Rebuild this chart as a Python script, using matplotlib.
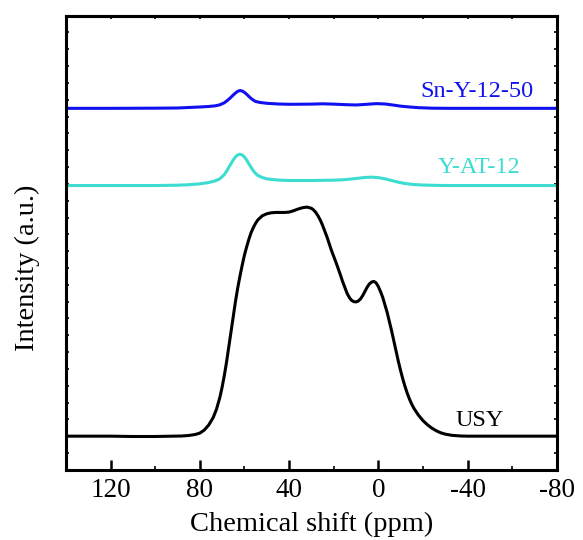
import numpy as np
import matplotlib.pyplot as plt
from matplotlib.ticker import MultipleLocator

plt.rcParams['font.family'] = ['Liberation Serif', 'DejaVu Serif']
plt.rcParams['axes.unicode_minus'] = False

# 27Al MAS NMR spectra, offsets already applied
usy_ppm = [140, 130, 120, 110, 100, 92, 88, 85, 82, 80, 78, 76, 74, 72.5, 71, 70,
           69, 68, 67, 66, 65, 64, 63, 62, 61, 60, 59, 58, 57, 56, 55, 54, 52, 50,
           48, 46, 44, 42, 40, 38, 36, 34, 32, 30, 29, 28, 27, 26, 25, 24, 23, 22,
           21, 20, 19, 18, 17, 16, 15, 14, 13, 12, 11, 10, 9, 8, 7, 6, 5, 4, 3, 2,
           1, 0, -1, -2, -3, -4, -5, -6, -7, -8, -9, -10, -11, -12, -13, -14, -15,
           -16, -18, -20, -22, -24, -26, -28, -30, -33, -37, -40, -50, -60, -80]
usy_int = [2.0, 2.0, 2.0, 1.98, 1.98, 2.0, 2.01, 2.04, 2.1, 2.18, 2.36, 2.66, 3.1,
           3.6, 4.3, 4.9, 5.6, 6.4, 7.3, 8.2, 9.1, 10.0, 10.8, 11.5, 12.15, 12.75,
           13.25, 13.7, 14.1, 14.4, 14.65, 14.85, 15.1, 15.22, 15.28, 15.3, 15.3,
           15.3, 15.32, 15.4, 15.5, 15.58, 15.62, 15.55, 15.45, 15.3, 15.1, 14.85,
           14.55, 14.2, 13.85, 13.45, 13.05, 12.7, 12.35, 11.98, 11.6, 11.2, 10.85,
           10.5, 10.25, 10.08, 10.0, 9.98, 10.03, 10.15, 10.35, 10.6, 10.85, 11.05,
           11.16, 11.2, 11.12, 10.9, 10.6, 10.25, 9.8, 9.35, 8.8, 8.25, 7.65, 7.05,
           6.45, 5.9, 5.4, 4.95, 4.55, 4.2, 3.9, 3.65, 3.25, 2.93, 2.68, 2.48, 2.32,
           2.2, 2.12, 2.05, 2.01, 2.0, 2.0, 2.0, 2.0]

yat_ppm = [140, 120, 100, 90, 85, 80, 76, 73, 71, 69, 68, 67, 66, 65, 64, 63, 62,
           61, 60, 59, 58, 57, 56, 55, 54, 52, 50, 47, 44, 40, 30, 20, 15, 10, 6,
           3, 0, -3, -6, -9, -12, -16, -20, -26, -32, -50, -80]
yat_int = [16.9, 16.9, 16.9, 16.92, 16.95, 17.0, 17.08, 17.18, 17.3, 17.55, 17.75,
           17.98, 18.2, 18.42, 18.6, 18.72, 18.76, 18.72, 18.6, 18.42, 18.2, 17.98,
           17.78, 17.62, 17.5, 17.38, 17.3, 17.25, 17.22, 17.2, 17.2, 17.22, 17.25,
           17.32, 17.38, 17.4, 17.37, 17.3, 17.2, 17.1, 17.02, 16.96, 16.93, 16.91,
           16.9, 16.9, 16.9]

sny_ppm = [140, 120, 100, 90, 85, 80, 76, 73, 71, 69, 68, 67, 66, 65, 64, 63, 62,
           61, 60, 59, 58, 57, 56, 55, 53, 50, 45, 40, 30, 25, 20, 15, 10, 5, 1,
           -3, -7, -10, -14, -18, -24, -32, -50, -80]
sny_int = [21.49, 21.49, 21.5, 21.51, 21.54, 21.57, 21.6, 21.64, 21.7, 21.82, 21.92,
           22.03, 22.15, 22.28, 22.4, 22.5, 22.55, 22.52, 22.44, 22.33, 22.2, 22.08,
           21.98, 21.9, 21.84, 21.79, 21.75, 21.73, 21.74, 21.76, 21.74, 21.71,
           21.69, 21.73, 21.77, 21.75, 21.68, 21.62, 21.57, 21.53, 21.5, 21.49,
           21.49, 21.49]

fig = plt.figure(figsize=(5.83, 5.40), dpi=100)
ax = fig.add_axes([0.113, 0.130, 0.842, 0.841])

ax.plot(usy_ppm, usy_int, color='black', lw=2.2)
ax.plot(yat_ppm, yat_int, color='#3cdcd0', lw=2.2)
ax.plot(sny_ppm, sny_int, color='#1010f0', lw=2.2)

ax.text(-45.5, 2.95, 'USY', color='black', fontsize=17.5, ha='center', va='center')
ax.text(-45.3, 17.95, 'Y-AT-12', color='#3cdcd0', fontsize=17.5, ha='center', va='center')
ax.text(-44, 22.5, 'Sn-Y-12-50', color='#1010f0', fontsize=17.5, ha='center', va='center')

ax.set_xlim(140, -80)
ax.set_ylim(0, 27)
ax.xaxis.set_major_locator(MultipleLocator(40))
ax.xaxis.set_minor_locator(MultipleLocator(20))
ax.yaxis.set_major_locator(MultipleLocator(1))
ax.tick_params(axis='x', which='major', direction='in', length=7.5, width=1.8,
               labelsize=19.5, pad=6)
ax.tick_params(axis='x', which='minor', direction='in', length=3, width=1.2)
ax.tick_params(axis='y', which='major', direction='in', length=2.5, width=1.2,
               left=True, right=True, labelleft=False)

top = ax.secondary_xaxis('top')
top.xaxis.set_major_locator(MultipleLocator(20))
top.tick_params(direction='in', length=2.5, width=1.2, labeltop=False)
top.spines['top'].set_linewidth(2.2)

for sp in ax.spines.values():
    sp.set_linewidth(2.2)

ax.set_xlabel('Chemical shift (ppm)', fontsize=20.5, labelpad=6)
ax.set_ylabel('Intensity (a.u.)', fontsize=20.5)
ax.yaxis.set_label_coords(-0.052, 0.445)

fig.savefig('out.png', dpi=100)
